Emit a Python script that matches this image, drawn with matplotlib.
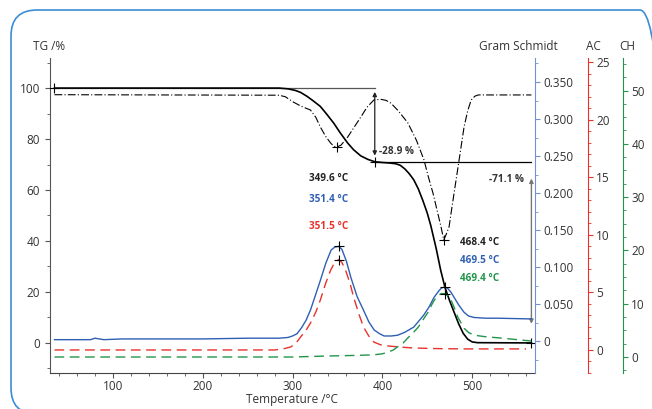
import numpy as np
import matplotlib
matplotlib.use("Agg")
import matplotlib.pyplot as plt
from matplotlib.patches import FancyBboxPatch
from matplotlib.transforms import IdentityTransform
from matplotlib.ticker import MultipleLocator, FuncFormatter

plt.rcParams['font.family'] = ['Open Sans', 'DejaVu Sans']

# ---- data ----
# TG mass curve (%)
tg_x = [35, 285, 295, 303, 309, 316, 323, 331, 338, 346, 353, 361.5, 368, 376, 384, 391.6,
        400, 408, 415, 420, 425, 430, 435, 440, 445, 450, 454, 460, 465, 470, 475, 480, 485,
        490, 495, 500, 506, 566]
tg_y = [100, 100, 99.7, 99.1, 98.3, 96.8, 95.0, 92.8, 89.8, 86.2, 82.5, 78.4, 75.8, 73.4,
        72.0, 71.1, 70.8, 70.6, 70.3, 69.7, 68.3, 66.4, 64.0, 60.5, 56.0, 51.0, 46.0, 37.0,
        28.5, 21.5, 16.5, 12.0, 7.5, 3.8, 1.5, 0.4, 0.1, 0.0]

# DTG curve (drawn in TG-axis units, no own scale shown)
dtg_x = [35, 285, 292, 301, 310, 320, 326, 331, 337, 342.5, 346, 349.6, 354, 361.5, 368,
         376, 383, 390.5, 398, 404, 409.5, 418, 428.5, 438, 446.4, 451, 456.4, 461, 465.4,
         468.4, 471, 474.3, 477, 479.9, 485.5, 491, 495, 498.9, 503, 506.7, 566]
dtg_y = [97.4, 97.2, 96.6, 94.5, 92.8, 91.4, 88.5, 84.7, 81.0, 78.4, 77.2, 76.9, 77.6, 80.8,
         84.3, 88.6, 92.5, 95.3, 95.6, 95.2, 94.1, 91.0, 86.3, 79.5, 71.8, 65.5, 58.8, 52.0,
         45.5, 40.4, 42.5, 45.5, 52.0, 58.8, 71.8, 84.7, 91.0, 95.3, 96.8, 97.3, 97.3]

# Gram Schmidt
gs_x = [35, 60, 75, 80, 85, 90, 110, 150, 200, 250, 285, 295, 300, 305, 310, 315, 320, 325,
        331, 337, 343, 347, 351.4, 355, 360, 365, 372, 379, 385, 391, 397, 402, 410, 417,
        425, 435, 446, 452, 457.5, 463, 466, 469.5, 473, 476.5, 480, 485, 491, 496, 502,
        515, 529, 566]
gs_y = [0.002, 0.002, 0.002, 0.004, 0.003, 0.002, 0.003, 0.003, 0.003, 0.004, 0.004, 0.005,
        0.007, 0.010, 0.018, 0.028, 0.042, 0.060, 0.082, 0.105, 0.123, 0.127, 0.128, 0.124,
        0.108, 0.086, 0.060, 0.042, 0.026, 0.015, 0.010, 0.007, 0.007, 0.008, 0.012, 0.019,
        0.035, 0.046, 0.059, 0.068, 0.072, 0.073, 0.071, 0.066, 0.059, 0.049, 0.039, 0.034,
        0.032, 0.031, 0.031, 0.030]

# AC trace
ac_x = [35, 280, 290, 298, 304, 309, 315, 320, 326, 331, 337, 342.5, 347, 351.5, 355, 359,
        364, 368, 374, 379, 385, 390.5, 398, 406, 420, 435, 460, 491, 560]
ac_y = [0.0, 0.0, 0.1, 0.26, 0.6, 1.13, 1.7, 2.34, 3.3, 4.34, 5.8, 6.94, 7.6, 7.85, 7.6, 6.94,
        5.8, 4.6, 3.1, 2.0, 1.2, 0.69, 0.45, 0.35, 0.25, 0.17, 0.12, 0.09, 0.09]

# CH trace
ch_x = [35, 300, 342, 370, 390, 400, 406, 412, 417, 423, 428.5, 434, 440, 445, 451, 455, 458,
        462, 465.5, 469.4, 473, 476.5, 480, 484, 488, 491, 496, 502, 515, 529, 566]
ch_y = [0.0, 0.0, 0.2, 0.3, 0.4, 0.6, 0.9, 1.3, 1.9, 2.6, 3.6, 4.5, 5.6, 6.9, 8.4, 9.8, 10.7,
        11.5, 11.9, 11.9, 11.5, 10.7, 9.3, 7.5, 6.3, 5.4, 4.6, 4.1, 3.8, 3.6, 3.0]

# TG steps
step_temp = [35, 391.6, 566]
step_level = [100, 71.1, 0.0]
step_labels = ['-28.9 %', '-71.1 %']

# peak temperatures
peak1_temps = [349.6, 351.4, 351.5]
peak2_temps = [468.4, 469.5, 469.4]

C_BLUE = '#2f5fb3'
C_BLUE_AX = '#6f93d2'
C_RED = '#e8322c'
C_GREEN = '#22954a'
C_TXT = '#333333'
FS = 8.5

fig = plt.figure(figsize=(6.52, 4.09), dpi=100)
ax = fig.add_axes([50 / 652, 1 - 373 / 409, 485 / 652, 315 / 409])
ax_gs = ax.twinx()
ax_ac = ax.twinx()
ax_ch = ax.twinx()

# outer rounded frame
frame = FancyBboxPatch((11, -5), 655, 404, boxstyle='round,pad=0,rounding_size=26',
                       transform=IdentityTransform(), fill=False, edgecolor='#3b8dd6',
                       linewidth=1.2, clip_on=False)
fig.add_artist(frame)

# main TG axis
ax.plot(tg_x, tg_y, color='black', lw=1.2, zorder=5)
ax.plot(dtg_x, dtg_y, color='black', lw=0.8, dashes=(7, 2, 1, 2), zorder=5)
ax.set_xlim(30, 570)
ax.set_ylim(-11.8, 111.8)
ax.xaxis.set_minor_locator(MultipleLocator(20))
ax.yaxis.set_minor_locator(MultipleLocator(10))
ax.set_xticks([100, 200, 300, 400, 500])
ax.set_yticks([0, 20, 40, 60, 80, 100])
for s in ['top', 'right']:
    ax.spines[s].set_visible(False)
ax.spines['left'].set_color('#555555')
ax.spines['bottom'].set_color('#444444')
ax.tick_params(which='both', colors='#555555', labelcolor=C_TXT, labelsize=FS)
ax.tick_params(which='major', length=3.5)
ax.tick_params(which='minor', length=2)
ax.tick_params(axis='x', which='major', pad=1.5)

# Gram Schmidt axis
ax_gs.plot(gs_x, gs_y, color=C_BLUE, lw=1.0)
ax_gs.set_ylim(-0.043, 0.3824)
ax_gs.set_yticks([0, 0.05, 0.1, 0.15, 0.2, 0.25, 0.3, 0.35])
ax_gs.yaxis.set_minor_locator(MultipleLocator(0.025))
ax_gs.yaxis.set_major_formatter(FuncFormatter(lambda v, p: '0' if abs(v) < 1e-9 else f'{v:.3f}'))

# AC axis
ax_ac.plot(ac_x, ac_y, color=C_RED, lw=1.0, dashes=(7, 4))
ax_ac.set_ylim(-2.0, 25.35)
ax_ac.set_yticks([0, 5, 10, 15, 20, 25])
ax_ac.yaxis.set_minor_locator(MultipleLocator(1))
ax_ac.spines['right'].set_position(('axes', (588 - 50) / 485))

# CH axis
ax_ch.plot(ch_x, ch_y, color=C_GREEN, lw=1.0, dashes=(7, 4))
ax_ch.set_ylim(-3.0, 56.1)
ax_ch.set_yticks([0, 10, 20, 30, 40, 50])
ax_ch.yaxis.set_minor_locator(MultipleLocator(2.5))
ax_ch.spines['right'].set_position(('axes', (623 - 50) / 485))

for a, col in [(ax_gs, C_BLUE_AX), (ax_ac, C_RED), (ax_ch, C_GREEN)]:
    for s in ['top', 'left', 'bottom']:
        a.spines[s].set_visible(False)
    a.spines['right'].set_color(col)
    a.tick_params(which='both', colors=col, labelcolor=C_TXT, labelsize=FS)
    a.tick_params(which='major', length=3.5, pad=2.5)
    a.tick_params(which='minor', length=2)

# step annotations on TG
ax.plot([step_temp[0], step_temp[1]], [step_level[0], step_level[0]], color='#555555', lw=0.9, zorder=4)
ax.plot([step_temp[1], step_temp[2]], [step_level[1], step_level[1]], color='black', lw=0.9, zorder=4)
ax.plot(step_temp, step_level, ls='none', marker='+', color='black', ms=7, mew=0.8, zorder=6)
ax.annotate('', xy=(step_temp[1], 98.5), xytext=(step_temp[1], 73.5),
            arrowprops=dict(arrowstyle='<|-|>', color='#222222', lw=0.9, mutation_scale=6,
                            shrinkA=0, shrinkB=0))
ax.annotate('', xy=(step_temp[2], 64.5), xytext=(step_temp[2], 7.5),
            arrowprops=dict(arrowstyle='<|-|>', color='#777777', lw=1.0, mutation_scale=6,
                            shrinkA=0, shrinkB=0))
ax.text(396, 75, step_labels[0], fontsize=7.2, fontweight='bold', color=C_TXT, va='center', ha='left')
ax.text(558, 64, step_labels[1], fontsize=7.2, fontweight='bold', color=C_TXT, va='center', ha='right')

# peak markers
ax.plot([peak1_temps[0], peak2_temps[0]], [76.9, 40.4], ls='none', marker='+', color='black',
        ms=7, mew=0.8, zorder=6)
ax_gs.plot([peak1_temps[1], peak2_temps[1]], [0.128, 0.073], ls='none', marker='+', color='black',
           ms=7, mew=0.8)
ax_ac.plot([peak1_temps[2]], [7.85], ls='none', marker='+', color='black', ms=7, mew=0.8)
ax_ch.plot([peak2_temps[2]], [11.9], ls='none', marker='+', color='black', ms=7, mew=0.8)

# peak labels
for t, yy, col in zip(peak1_temps, [64.7, 56.1, 45.5], ['#222222', C_BLUE, C_RED]):
    ax.text(318, yy, f'{t:.1f} °C', fontsize=7.2, fontweight='bold', color=col, va='center')
for t, yy, col in zip(peak2_temps, [39.6, 32.2, 25.1], ['#222222', C_BLUE, C_GREEN]):
    ax.text(486.5, yy, f'{t:.1f} °C', fontsize=7.2, fontweight='bold', color=col, va='center')

# axis titles
fig.text(292 / 652, 1 - 399 / 409, 'Temperature /°C', fontsize=FS, color=C_TXT, ha='center', va='center')
fig.text(49 / 652, 1 - 46 / 409, 'TG /%', fontsize=FS, color=C_TXT, ha='center', va='center')
fig.text(558 / 652, 1 - 46 / 409, 'Gram Schmidt', fontsize=FS, color=C_TXT, ha='right', va='center')
fig.text(593 / 652, 1 - 46 / 409, 'AC', fontsize=FS, color=C_TXT, ha='center', va='center')
fig.text(627 / 652, 1 - 46 / 409, 'CH', fontsize=FS, color=C_TXT, ha='center', va='center')

fig.savefig('out.png', dpi=100)
